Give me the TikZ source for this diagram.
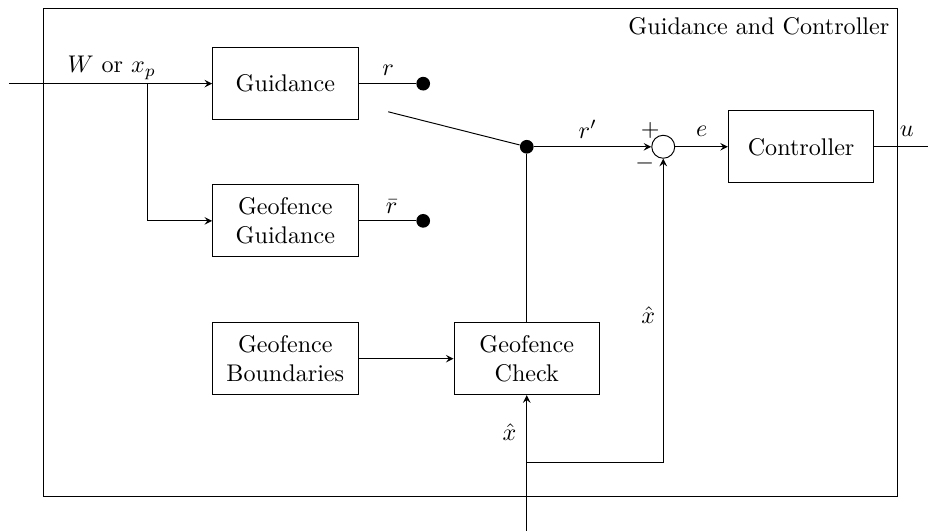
\documentclass[tikz,border=0pt]{standalone}
\usepackage{amsmath, tikz, xcolor}
\usetikzlibrary{arrows.meta}

\begin{document}
\begin{tikzpicture}[>=stealth,
    block/.style={draw, minimum width=2.12cm, minimum height=1.05cm, align=center},
    sumnode/.style={draw, circle, inner sep=0pt, minimum size=0.335cm},
    swdot/.style={fill=black, circle, inner sep=0pt, minimum size=0.2cm}]
    \useasboundingbox (0,0) rectangle (13.53,7.74);
    % outer frame
    \draw (0.627,0.496) rectangle (13.09,7.61);
    \node (title) at (13.09,7.61) [below left] {Guidance and Controller};
    % blocks
    \node (guid) at (4.16,6.52) [block] {Guidance};
    \node (gfguid) at (4.16,4.52) [block] {Geofence\\Guidance};
    \node (gfbound) at (4.16,2.51) [block] {Geofence\\Boundaries};
    \node (gfcheck) at (7.68,2.51) [block] {Geofence\\Check};
    \node (sum) at (9.67,5.60) [sumnode] {};
    \node (ctrl) at (11.68,5.60) [block] {Controller};
    % switch contacts
    \node (dotr) at (6.17,6.52) [swdot] {};
    \node (dotrbar) at (6.17,4.52) [swdot] {};
    \node (dotsw) at (7.68,5.60) [swdot] {};
    \coordinate (swend) at (5.66,6.11);
    % inputs and branch points
    \coordinate (win) at (0.131,6.52);
    \coordinate (wbr) at (2.157,6.52);
    \coordinate (xin) at (7.68,0);
    \coordinate (xbr) at (7.68,0.99);
    \coordinate (uout) at (13.53,5.60);
    % connectors
    \draw [->] (win) -- (guid.west);
    \draw [->] (wbr) |- (gfguid.west);
    \draw (guid.east) -- (dotr);
    \draw (gfguid.east) -- (dotrbar);
    \draw (swend) -- (dotsw);
    \draw [->] (dotsw) -- (sum.west);
    \draw [->] (sum.east) -- (ctrl.west);
    \draw (ctrl.east) -- (uout);
    \draw (dotsw) -- (gfcheck.north);
    \draw [->] (gfbound.east) -- (gfcheck.west);
    \draw [->] (xin) -- (gfcheck.south);
    \draw [->] (xbr) -| (sum.south);
    % labels
    \node (lw) at (1.63,6.75) {$W$ or $x_p$};
    \node (lr) at (5.66,6.72) {$r$};
    \node (lrbar) at (5.71,4.73) {$\bar{r}$};
    \node (lrp) at (8.57,5.85) {$r'$};
    \node (le) at (10.23,5.83) {$e$};
    \node (lu) at (13.22,5.83) {$u$};
    \node (lplus) at (9.48,5.84) {$+$};
    \node (lminus) at (9.40,5.35) {$-$};
    \node (lxa) at (9.45,3.15) {$\hat{x}$};
    \node (lxb) at (7.43,1.44) {$\hat{x}$};
\end{tikzpicture}
\end{document}
